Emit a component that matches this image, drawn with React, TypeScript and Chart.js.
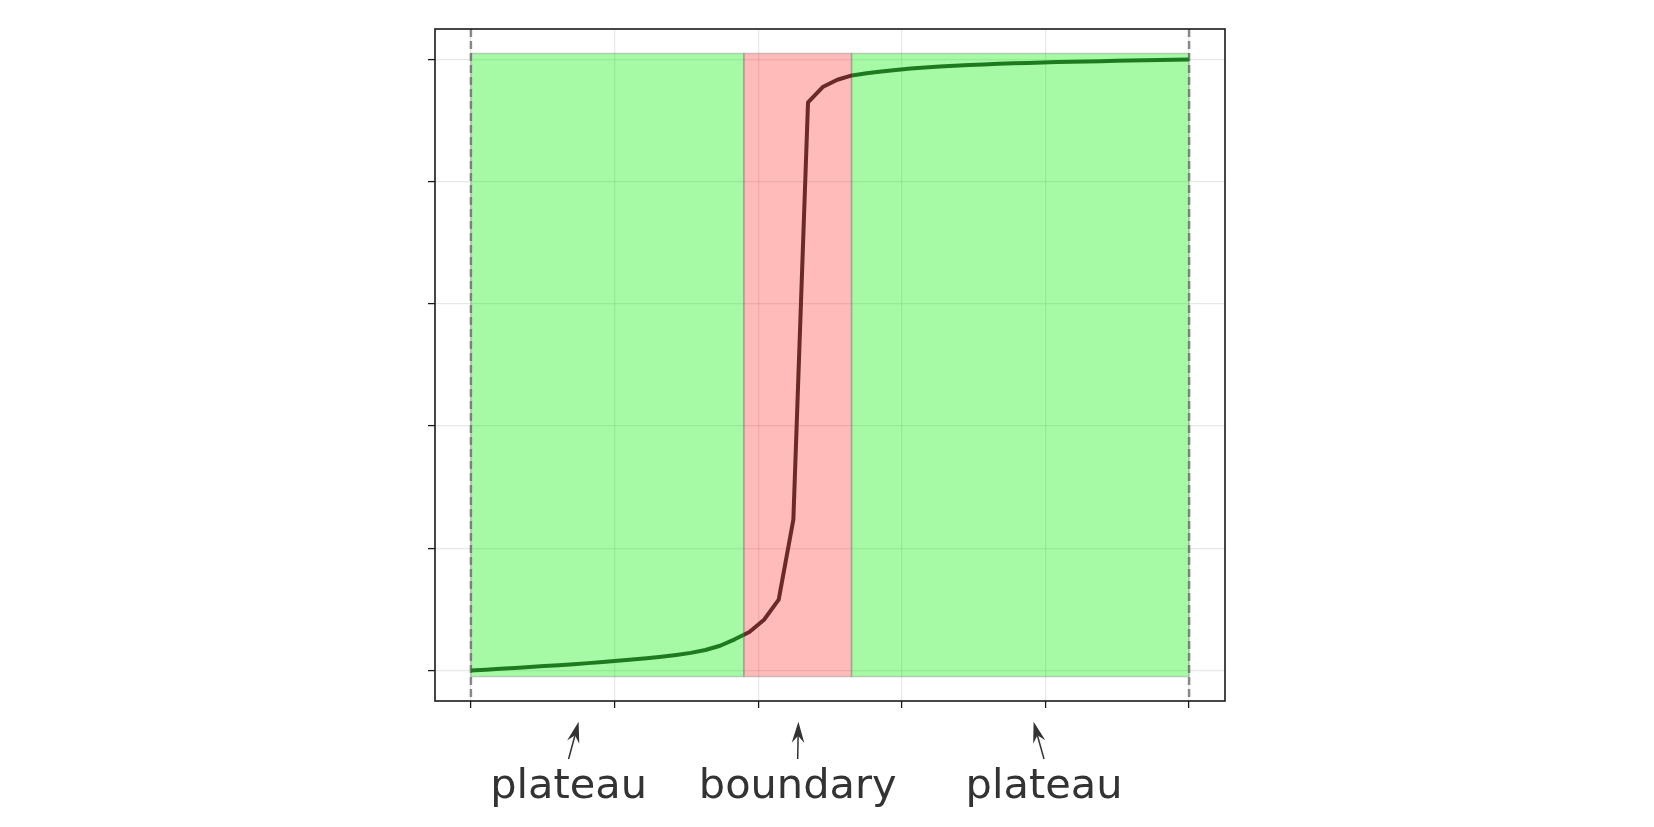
import React, { useEffect, useRef } from "react";
import { Chart, registerables } from "chart.js";

Chart.register(...registerables);

// ---- data ----
const sampleCount = 50;
const xValues: number[] = Array.from({ length: sampleCount }, (_, i) => i / (sampleCount - 1));
const yValues: number[] = [
  0.0, 0.0013, 0.0027, 0.0041, 0.0056, 0.0071, 0.0087, 0.0103, 0.012, 0.0138,
  0.0157, 0.0178, 0.02, 0.0225, 0.0254, 0.0288, 0.0335, 0.0405, 0.051, 0.063,
  0.083, 0.116, 0.247, 0.93, 0.955, 0.967, 0.974, 0.9775, 0.9805, 0.983,
  0.9852, 0.987, 0.9885, 0.9898, 0.991, 0.992, 0.993, 0.9938, 0.9945, 0.9952,
  0.9958, 0.9964, 0.9969, 0.9974, 0.9979, 0.9984, 0.9988, 0.9992, 0.9996, 1.0,
];
const xTicks: number[] = [0, 0.2, 0.4, 0.6, 0.8, 1.0];
const yTicks: number[] = [0, 0.2, 0.4, 0.6, 0.8, 1.0];
const regionStarts: number[] = [0, 0.38, 0.53];
const regionEnds: number[] = [0.38, 0.53, 1.0];
const regionKinds: string[] = ["plateau", "boundary", "plateau"];
const regionYMin = -0.01;
const regionYMax = 1.01;
const dashedLineXs: number[] = [0, 1];
const annotationLabels: string[] = ["plateau", "boundary", "plateau"];
const annotationTextX: number[] = [0.136, 0.455, 0.798];
const annotationTipX: number[] = [0.15, 0.456, 0.7835];
const annotationTipY = -0.084;
const annotationTailY = -0.145;
const annotationTextY = -0.209;

const GREEN_FILL = "rgba(0,242,0,0.35)";
const RED_FILL = "rgba(255,0,0,0.27)";
const GREEN_LINE = "#1e7a1e";
const RED_LINE = "#6b2a2a";

export default function App() {
  const canvasRef = useRef<HTMLCanvasElement | null>(null);

  useEffect(() => {
    document.body.style.margin = "0";
    const canvas = canvasRef.current;
    if (!canvas) return;

    const spansPlugin = {
      id: "spans",
      beforeDatasetsDraw(chart: any) {
        const { ctx, scales } = chart;
        const xs = scales.x;
        const ys = scales.y;
        ctx.save();
        for (let i = 0; i < regionStarts.length; i++) {
          const x1 = xs.getPixelForValue(regionStarts[i]);
          const x2 = xs.getPixelForValue(regionEnds[i]);
          const y1 = ys.getPixelForValue(regionYMax);
          const y2 = ys.getPixelForValue(regionYMin);
          ctx.fillStyle = regionKinds[i] === "boundary" ? RED_FILL : GREEN_FILL;
          ctx.fillRect(x1, y1, x2 - x1, y2 - y1);
          ctx.strokeStyle = "rgba(120,120,120,0.35)";
          ctx.lineWidth = 1.5;
          ctx.strokeRect(x1, y1, x2 - x1, y2 - y1);
        }
        // dashed vertical lines
        const area = chart.chartArea;
        ctx.strokeStyle = "rgba(110,110,110,0.8)";
        ctx.lineWidth = 2.5;
        ctx.setLineDash([8, 4]);
        for (const v of dashedLineXs) {
          const px = xs.getPixelForValue(v);
          ctx.beginPath();
          ctx.moveTo(px, area.top);
          ctx.lineTo(px, area.bottom);
          ctx.stroke();
        }
        ctx.restore();
      },
    };

    const framePlugin = {
      id: "frame",
      afterDraw(chart: any) {
        const { ctx, chartArea: a, scales } = chart;
        const xs = scales.x;
        const ys = scales.y;
        ctx.save();
        ctx.strokeStyle = "#1a1a1a";
        ctx.lineWidth = 1.6;
        ctx.strokeRect(a.left, a.top, a.right - a.left, a.bottom - a.top);

        // annotations
        ctx.strokeStyle = "#333333";
        ctx.fillStyle = "#333333";
        ctx.lineWidth = 1.5;
        for (let i = 0; i < annotationLabels.length; i++) {
          const tx = xs.getPixelForValue(annotationTextX[i]);
          const tailY = ys.getPixelForValue(annotationTailY);
          const tipX = xs.getPixelForValue(annotationTipX[i]);
          const tipY = ys.getPixelForValue(annotationTipY);
          const dx = tipX - tx;
          const dy = tipY - tailY;
          const len = Math.hypot(dx, dy);
          const ux = dx / len;
          const uy = dy / len;
          const px = -uy;
          const py = ux;
          const headLen = 21;
          const notch = 14;
          const halfW = 6.3;
          ctx.beginPath();
          ctx.moveTo(tx, tailY);
          ctx.lineTo(tipX - ux * notch, tipY - uy * notch);
          ctx.stroke();
          ctx.beginPath();
          ctx.moveTo(tipX, tipY);
          ctx.lineTo(tipX - ux * headLen + px * halfW, tipY - uy * headLen + py * halfW);
          ctx.lineTo(tipX - ux * notch, tipY - uy * notch);
          ctx.lineTo(tipX - ux * headLen - px * halfW, tipY - uy * headLen - py * halfW);
          ctx.closePath();
          ctx.fill();
          ctx.font = '41.5px "DejaVu Sans"';
          ctx.textAlign = "center";
          ctx.textBaseline = "alphabetic";
          ctx.fillText(annotationLabels[i], tx, ys.getPixelForValue(annotationTextY));
        }
        ctx.restore();
      },
    };

    const lineColor = (context: any) => {
      const chart = context.chart;
      const area = chart.chartArea;
      const xs = chart.scales && chart.scales.x;
      if (!area || !xs) return GREEN_LINE;
      const g = chart.ctx.createLinearGradient(area.left, 0, area.right, 0);
      const w = area.right - area.left;
      const f1 = Math.min(1, Math.max(0, (xs.getPixelForValue(regionStarts[1]) - area.left) / w));
      const f2 = Math.min(1, Math.max(0, (xs.getPixelForValue(regionEnds[1]) - area.left) / w));
      g.addColorStop(0, GREEN_LINE);
      g.addColorStop(f1, GREEN_LINE);
      g.addColorStop(f1, RED_LINE);
      g.addColorStop(f2, RED_LINE);
      g.addColorStop(f2, GREEN_LINE);
      g.addColorStop(1, GREEN_LINE);
      return g;
    };

    const chart = new Chart(canvas, {
      type: "line",
      data: {
        datasets: [
          {
            data: xValues.map((x, i) => ({ x, y: yValues[i] })),
            borderColor: lineColor,
            borderWidth: 4,
            pointRadius: 0,
            tension: 0,
            fill: false,
            borderJoinStyle: "round",
          } as any,
        ],
      },
      options: {
        animation: false,
        responsive: false,
        maintainAspectRatio: false,
        layout: { padding: { left: 435, top: 29, right: 429, bottom: 126 } },
        plugins: { legend: { display: false }, tooltip: { enabled: false } },
        scales: {
          x: {
            type: "linear",
            min: -0.05,
            max: 1.05,
            afterBuildTicks: (s: any) => {
              s.ticks = xTicks.map((v) => ({ value: v }));
            },
            afterFit: (s: any) => {
              s.height = 0;
            },
            ticks: { display: false },
            border: { display: false },
            grid: {
              color: "rgba(150,150,150,0.22)",
              lineWidth: 1.2,
              drawTicks: true,
              tickLength: 7,
              tickColor: "#1a1a1a",
              tickWidth: 1.3,
            },
          },
          y: {
            type: "linear",
            min: -0.05,
            max: 1.05,
            afterBuildTicks: (s: any) => {
              s.ticks = yTicks.map((v) => ({ value: v }));
            },
            afterFit: (s: any) => {
              s.width = 0;
            },
            ticks: { display: false },
            border: { display: false },
            grid: {
              color: "rgba(150,150,150,0.22)",
              lineWidth: 1.2,
              drawTicks: true,
              tickLength: 7,
              tickColor: "#1a1a1a",
              tickWidth: 1.3,
            },
          },
        },
      } as any,
      plugins: [spansPlugin, framePlugin],
    });

    return () => {
      chart.destroy();
    };
  }, []);

  return (
    <div style={{ position: "fixed", left: 0, top: 0, width: 1654, height: 827, background: "#fff" }}>
      <canvas ref={canvasRef} width={1654} height={827} style={{ width: 1654, height: 827, display: "block" }} />
    </div>
  );
}
